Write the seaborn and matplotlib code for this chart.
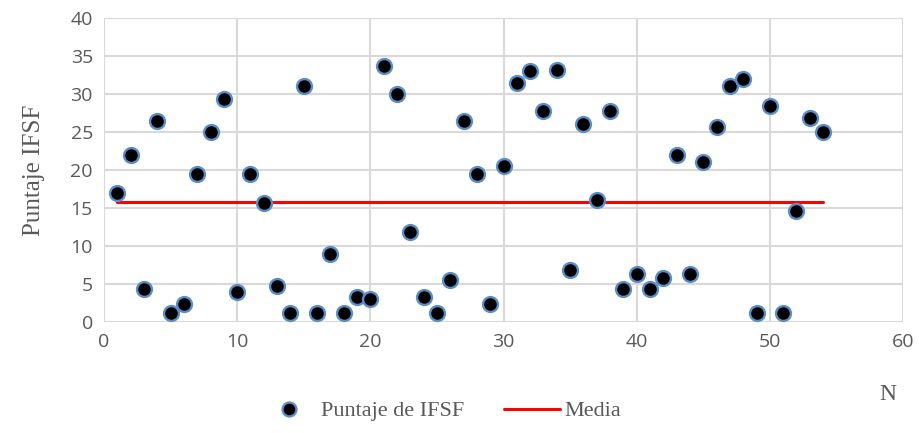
import matplotlib
matplotlib.use("Agg")
import matplotlib.pyplot as plt
import seaborn as sns
import pandas as pd
from matplotlib.lines import Line2D

n_values = list(range(1, 55))
puntaje = [17.0, 22.0, 4.3, 26.4, 1.2, 2.4, 19.5, 25.0, 29.4, 3.9,
           19.5, 15.7, 4.8, 1.2, 31.0, 1.2, 9.0, 1.2, 3.3, 3.0,
           33.7, 30.0, 11.9, 3.3, 1.2, 5.5, 26.5, 19.5, 2.4, 20.5,
           31.5, 33.0, 27.8, 33.2, 6.8, 26.1, 16.1, 27.8, 4.4, 6.3,
           4.3, 5.8, 22.0, 6.3, 21.0, 25.6, 31.0, 32.0, 1.2, 28.4,
           1.2, 14.6, 26.8, 25.0]
media_value = 15.8
media_x = [1, 54]
media_y = [media_value, media_value]

x_ticks = [0, 10, 20, 30, 40, 50, 60]
y_ticks = [0, 5, 10, 15, 20, 25, 30, 35, 40]

df = pd.DataFrame({"N": n_values, "Puntaje": puntaje})
df_media = pd.DataFrame({"N": media_x, "Media": media_y})

sns.set_theme(style="white")
tick_font = "Open Sans"
serif_font = "Liberation Serif"

fig = plt.figure(figsize=(9.19, 4.33), dpi=100)
ax = fig.add_axes([104 / 919, 1 - 322 / 433, (903 - 104) / 919, (322 - 18) / 433])

sns.lineplot(data=df_media, x="N", y="Media", ax=ax, color="#ff0000", linewidth=2.2, zorder=2)
sns.scatterplot(data=df, x="N", y="Puntaje", ax=ax, color="black", edgecolor="#5b8ec9",
                linewidth=1.7, s=115, zorder=3)

ax.set_xlim(0, 60)
ax.set_ylim(0, 40)
ax.set_xticks(x_ticks)
ax.set_yticks(y_ticks)
ax.grid(True, color="#d9d9d9", linewidth=1.5)
ax.set_axisbelow(True)
for s in ax.spines.values():
    s.set_visible(False)
ax.tick_params(axis="both", length=0, labelsize=14, labelcolor="#595959", pad=8)
for lab in ax.get_xticklabels() + ax.get_yticklabels():
    lab.set_fontfamily(tick_font)

ax.set_xlabel("")
ax.set_ylabel("Puntaje IFSF", fontsize=18, fontfamily=serif_font, color="#595959", labelpad=18)
fig.text(888 / 919, 1 - 395 / 433, "N", fontsize=17, fontfamily=serif_font, color="#595959",
         ha="center", va="center")

handles = [
    Line2D([], [], marker="o", linestyle="none", markerfacecolor="black",
           markeredgecolor="#5b8ec9", markeredgewidth=1.7, markersize=10),
    Line2D([], [], color="#ff0000", linewidth=2.2),
]
leg = fig.legend(handles, ["Puntaje de IFSF", "Media"], loc="center",
                 bbox_to_anchor=(441 / 919, 1 - 411 / 433), ncol=2, frameon=False,
                 prop={"family": serif_font, "size": 16}, handlelength=2.5,
                 handletextpad=0.2, columnspacing=1.8)
for t in leg.get_texts():
    t.set_color("#595959")

fig.savefig("out.png", dpi=100)
